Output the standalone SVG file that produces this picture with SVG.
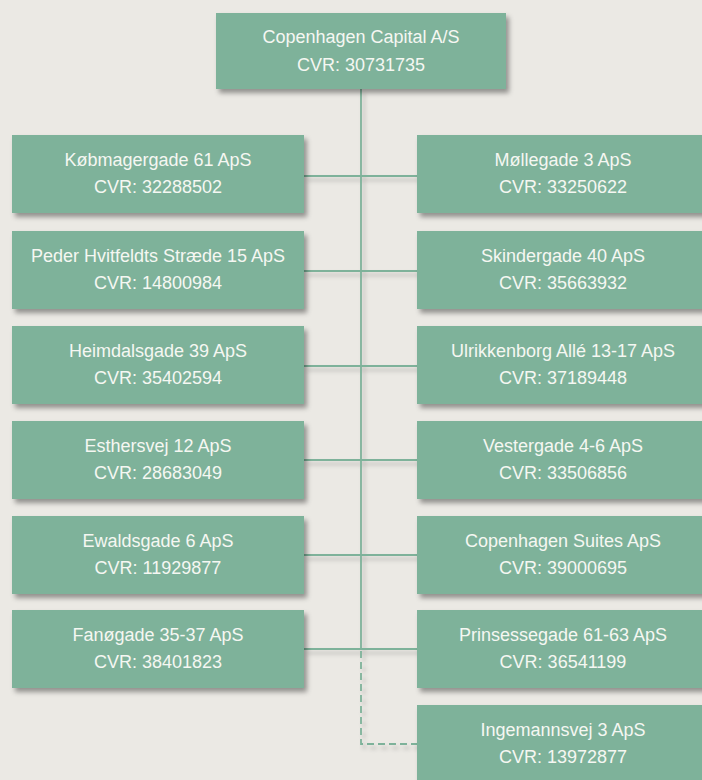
<svg xmlns="http://www.w3.org/2000/svg" width="702" height="780" viewBox="0 0 702 780">
<defs>
<filter id="sh" x="-10%" y="-20%" width="130%" height="150%">
<feDropShadow dx="3" dy="4" stdDeviation="2.5" flood-color="#000" flood-opacity="0.38"/>
</filter>
<filter id="lsh" x="-10%" y="-10%" width="130%" height="130%">
<feDropShadow dx="3" dy="4" stdDeviation="2" flood-color="#000" flood-opacity="0.22"/>
</filter>
<style>
.box{fill:#7eb29a;filter:url(#sh)}
.t{font-family:"Liberation Sans",Arial,Helvetica,sans-serif;font-size:18px;fill:#f5f7f2;text-anchor:middle}
.ln{stroke:#7eb29a;stroke-width:1.8;fill:none}
.dash{stroke-dasharray:7 4}
</style>
</defs>
<rect width="702" height="780" fill="#ebe9e4"/>
<g id="connectors" filter="url(#lsh)">
<line class="ln" x1="361" y1="89" x2="361" y2="649"/>
<line class="ln" x1="304" y1="176" x2="417" y2="176"/>
<line class="ln" x1="304" y1="271" x2="417" y2="271"/>
<line class="ln" x1="304" y1="366" x2="417" y2="366"/>
<line class="ln" x1="304" y1="460" x2="417" y2="460"/>
<line class="ln" x1="304" y1="555" x2="417" y2="555"/>
<line class="ln" x1="304" y1="649" x2="417" y2="649"/>
<path class="ln dash" d="M361 651 V744 H417"/>
</g>
<g id="n0"><rect class="box" x="216" y="13" width="290" height="76"/><text class="t" x="361" y="43">Copenhagen Capital A/S</text><text class="t" x="361" y="71">CVR: 30731735</text></g>
<g id="l1"><rect class="box" x="12" y="135" width="292" height="78"/><text class="t" x="158" y="166">Købmagergade 61 ApS</text><text class="t" x="158" y="193">CVR: 32288502</text></g>
<g id="l2"><rect class="box" x="12" y="231" width="292" height="78"/><text class="t" x="158" y="262">Peder Hvitfeldts Stræde 15 ApS</text><text class="t" x="158" y="289">CVR: 14800984</text></g>
<g id="l3"><rect class="box" x="12" y="326" width="292" height="78"/><text class="t" x="158" y="357">Heimdalsgade 39 ApS</text><text class="t" x="158" y="384">CVR: 35402594</text></g>
<g id="l4"><rect class="box" x="12" y="421" width="292" height="78"/><text class="t" x="158" y="452">Esthersvej 12 ApS</text><text class="t" x="158" y="479">CVR: 28683049</text></g>
<g id="l5"><rect class="box" x="12" y="516" width="292" height="78"/><text class="t" x="158" y="547">Ewaldsgade 6 ApS</text><text class="t" x="158" y="574">CVR: 11929877</text></g>
<g id="l6"><rect class="box" x="12" y="610" width="292" height="78"/><text class="t" x="158" y="641">Fanøgade 35-37 ApS</text><text class="t" x="158" y="668">CVR: 38401823</text></g>
<g id="r1"><rect class="box" x="417" y="135" width="292" height="78"/><text class="t" x="563" y="166">Møllegade 3 ApS</text><text class="t" x="563" y="193">CVR: 33250622</text></g>
<g id="r2"><rect class="box" x="417" y="231" width="292" height="78"/><text class="t" x="563" y="262">Skindergade 40 ApS</text><text class="t" x="563" y="289">CVR: 35663932</text></g>
<g id="r3"><rect class="box" x="417" y="326" width="292" height="78"/><text class="t" x="563" y="357">Ulrikkenborg Allé 13-17 ApS</text><text class="t" x="563" y="384">CVR: 37189448</text></g>
<g id="r4"><rect class="box" x="417" y="421" width="292" height="78"/><text class="t" x="563" y="452">Vestergade 4-6 ApS</text><text class="t" x="563" y="479">CVR: 33506856</text></g>
<g id="r5"><rect class="box" x="417" y="516" width="292" height="78"/><text class="t" x="563" y="547">Copenhagen Suites ApS</text><text class="t" x="563" y="574">CVR: 39000695</text></g>
<g id="r6"><rect class="box" x="417" y="610" width="292" height="78"/><text class="t" x="563" y="641">Prinsessegade 61-63 ApS</text><text class="t" x="563" y="668">CVR: 36541199</text></g>
<g id="r7"><rect class="box" x="417" y="705" width="292" height="78"/><text class="t" x="563" y="736">Ingemannsvej 3 ApS</text><text class="t" x="563" y="763">CVR: 13972877</text></g>
</svg>
